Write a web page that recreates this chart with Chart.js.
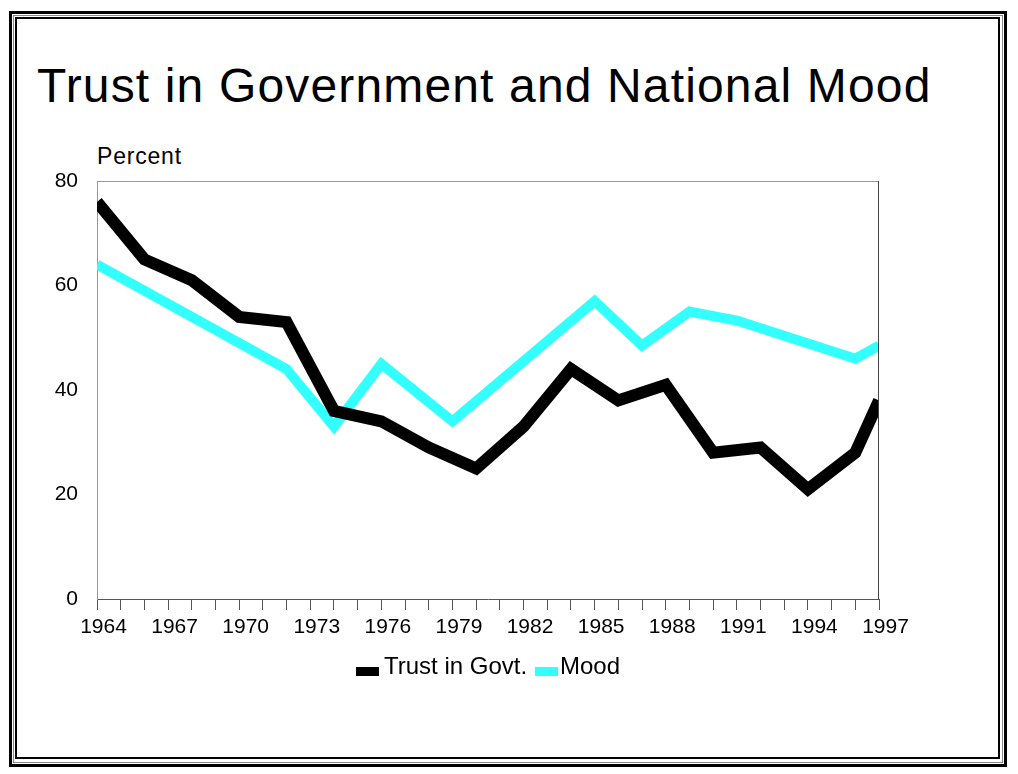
<!DOCTYPE html>
<html>
<head>
<meta charset="utf-8">
<script src="https://cdn.jsdelivr.net/npm/chart.js@4.4.1/dist/chart.umd.min.js"></script>
<style>
  html, body { margin: 0; padding: 0; background: #fff; }
  #wrap { position: relative; width: 1018px; height: 774px; overflow: hidden; background: #fff;
          font-family: "Liberation Sans", Arial, sans-serif; color: #000; }
  .frame { position: absolute; box-sizing: border-box; }
  #f1 { left: 9px; top: 11px; width: 998px; height: 756px; border: 3px solid #000; }
  #f2 { left: 13px; top: 15px; width: 990px; height: 748px; border: 1px solid #888; }
  #f3 { left: 15px; top: 17px; width: 985px; height: 742px; border: 2px solid #000; }
  #title { position: absolute; left: 37px; top: 62px; font-size: 48px; line-height: 48px; letter-spacing: 1.15px; white-space: nowrap; }
  #ylab { position: absolute; left: 97px; top: 145px; font-size: 23px; line-height: 23px; letter-spacing: 0.8px; white-space: nowrap; }
  #legend { position: absolute; left: 0; top: 0; width: 1018px; height: 774px; pointer-events: none; }
  .lbox { position: absolute; width: 23px; height: 9px; }
  .ltxt { position: absolute; font-size: 24px; line-height: 24px; white-space: nowrap; }
  canvas { position: absolute; left: 0; top: 0; }
</style>
</head>
<body>
<div id="wrap">
  <div class="frame" id="f1"></div>
  <div class="frame" id="f2"></div>
  <div class="frame" id="f3"></div>
  <div id="title">Trust in Government and National Mood</div>
  <div id="ylab">Percent</div>
  <canvas id="c" width="1018" height="774"></canvas>
  <div id="legend">
    <div class="lbox" style="left:356px; top:667px; background:#000;"></div>
    <div class="ltxt" style="left:384px; top:654px;">Trust in Govt.</div>
    <div class="lbox" style="left:535px; top:667px; background:#33FFFF;"></div>
    <div class="ltxt" style="left:560px; top:654px;">Mood</div>
  </div>
</div>
<script>
// ---- data ----
const trustYears  = [1964, 1966, 1968, 1970, 1972, 1974, 1976, 1978, 1980, 1982, 1984, 1986, 1988, 1990, 1992, 1994, 1996, 1997];
const trustValues = [76,   65,   61,   54,   53,   36,   34,   29,   25,   33,   44,   38,   41,   28,   29,   21,   28,   38];
const moodYears   = [1964, 1972, 1974, 1976, 1979, 1985, 1987, 1989, 1991, 1996, 1997];
const moodValues  = [64,   44,   33,   45,   34,   57,   48.5, 55,   53.3, 46,   48.5];
const yTicks = [0, 20, 40, 60, 80];
const xFirst = 1964, xLast = 1997, xLabelStep = 3;

const toPts = (xs, ys) => xs.map((x, i) => ({ x: x, y: ys[i] }));

const frameBorder = {
  id: 'frameBorder',
  afterDatasetsDraw(chart) {
    const { ctx, chartArea: a } = chart;
    ctx.save();
    ctx.lineWidth = 1;
    ctx.strokeStyle = '#999';
    ctx.beginPath(); ctx.moveTo(a.left, a.top + 0.5); ctx.lineTo(a.right, a.top + 0.5); ctx.stroke();
    ctx.strokeStyle = '#444';
    ctx.beginPath(); ctx.moveTo(a.right - 0.5, a.top); ctx.lineTo(a.right - 0.5, a.bottom); ctx.stroke();
    ctx.restore();
  }
};

Chart.defaults.font.family = '"Liberation Sans", Arial, sans-serif';
Chart.defaults.color = '#000';

new Chart(document.getElementById('c'), {
  type: 'line',
  data: {
    datasets: [
      { label: 'Trust in Govt.', data: toPts(trustYears, trustValues), borderColor: '#000', backgroundColor: '#000',
        borderWidth: 12, pointRadius: 0, tension: 0, fill: false },
      { label: 'Mood', data: toPts(moodYears, moodValues), borderColor: '#33FFFF', backgroundColor: '#33FFFF',
        borderWidth: 10, pointRadius: 0, tension: 0, fill: false }
    ]
  },
  options: {
    responsive: false,
    animation: false,
    events: [],
    layout: { padding: { left: 0, right: 139, top: 181, bottom: 125 } },
    plugins: { legend: { display: false }, title: { display: false }, tooltip: { enabled: false } },
    scales: {
      x: {
        type: 'linear', min: xFirst, max: xLast,
        afterFit: s => { s.height = 50; },
        afterBuildTicks: s => { const t = []; for (let v = xFirst; v <= xLast; v++) t.push({ value: v }); s.ticks = t; },
        ticks: {
          autoSkip: false, maxRotation: 0, minRotation: 0, padding: 5, labelOffset: 6.5,
          font: { size: 21 },
          callback: v => ((v - xFirst) % xLabelStep === 0 ? String(v) : '')
        },
        grid: { display: true, drawOnChartArea: false, drawTicks: true, tickLength: 11, color: '#555', lineWidth: 1 },
        border: { display: true, color: '#555', width: 1 }
      },
      y: {
        min: 0, max: 80,
        afterFit: s => { s.width = 97; },
        afterBuildTicks: s => { s.ticks = yTicks.map(v => ({ value: v })); },
        ticks: { padding: 19, font: { size: 21 }, callback: v => String(v) },
        grid: { display: false, drawTicks: false },
        border: { display: true, color: '#999', width: 1 }
      }
    }
  },
  plugins: [frameBorder]
});
</script>
</body>
</html>
